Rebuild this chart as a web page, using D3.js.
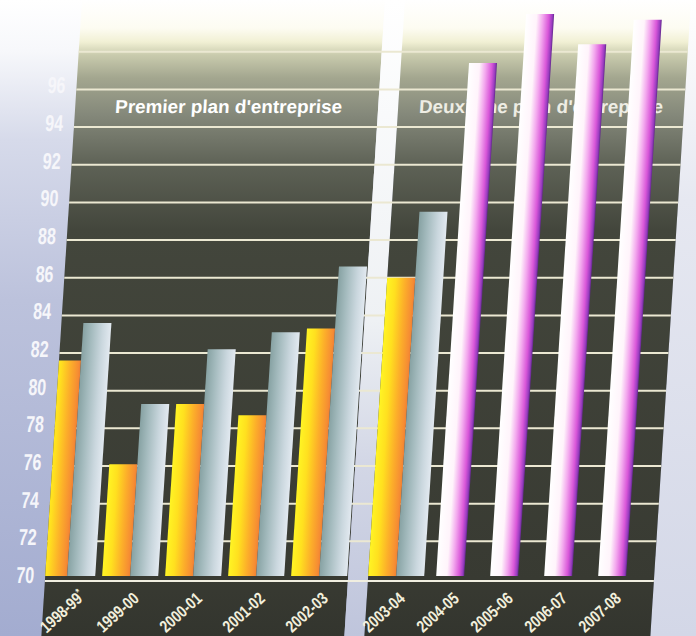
<!DOCTYPE html>
<html>
<head>
<meta charset="utf-8">
<script src="https://cdn.jsdelivr.net/npm/d3@7"></script>
<style>
  html, body { margin: 0; padding: 0; background: #ffffff; }
  svg { display: block; }
</style>
</head>
<body>
<svg id="chart" width="696" height="636"></svg>
<script>
// ---- data -------------------------------------------------------------
const firstPlanYears  = ["1998-99*", "1999-00", "2000-01", "2001-02", "2002-03"];
const secondPlanYears = ["2003-04", "2004-05", "2005-06", "2006-07", "2007-08"];
const categories = firstPlanYears.concat(secondPlanYears);

// yellow/orange series, grey series, pink series (one value per category, null = no bar)
const yellowValues = [81.6, 76.1, 79.3, 78.7, 83.3, 86.0, null, null, null, null];
const greyValues   = [83.6, 79.3, 82.2, 83.1, 86.6, 89.5, null, null, null, null];
const pinkValues   = [null, null, null, null, null, null, 97.4, 100.0, 98.4, 99.7];

const yTickLabels = [70, 72, 74, 76, 78, 80, 82, 84, 86, 88, 90, 92, 94, 96];
const gridValues  = [72, 74, 76, 78, 80, 82, 84, 86, 88, 90, 92, 94, 96, 98];
const planTitles  = ["Premier plan d'entreprise", "Deuxième plan d'entreprise"];

// ---- layout -----------------------------------------------------------
const W = 696, H = 636;
const baseY = 579;                 // y of the value 70
const skewDeg = -3.66;             // the whole board leans slightly
const panelLeft = 45, sepLeft = 348, sepRight = 368, panelRight = 654;
const labelFont = "'Liberation Sans', Arial, sans-serif";

const svg = d3.select("#chart");
const defs = svg.append("defs");

const y = d3.scaleLinear().domain([70, 100]).range([baseY, 14.1]);
const xFirst  = d3.scalePoint().domain(firstPlanYears).range([67, 319]);
const xSecond = d3.scalePoint().domain(secondPlanYears).range([396, 612]);
const xCenter = c => firstPlanYears.includes(c) ? xFirst(c) : xSecond(c);
const barW = xFirst.step() * 0.445;

// ---- gradients --------------------------------------------------------
function vGrad(id, stops) {
  const g = defs.append("linearGradient").attr("id", id)
    .attr("gradientUnits", "userSpaceOnUse")
    .attr("x1", 0).attr("y1", 0).attr("x2", 0).attr("y2", H);
  stops.forEach(([o, c]) => g.append("stop").attr("offset", o / H).attr("stop-color", c));
}
function hGrad(id, stops) {
  const g = defs.append("linearGradient").attr("id", id)
    .attr("x1", 0).attr("y1", 0).attr("x2", 1).attr("y2", 0);
  stops.forEach(([o, c]) => g.append("stop").attr("offset", o).attr("stop-color", c));
}

vGrad("bgLeft", [[0, "#ffffff"], [50, "#f7f8fb"], [140, "#d6daea"], [300, "#bcc2dc"], [636, "#a3acd0"]]);
vGrad("bgRight", [[0, "#ffffff"], [60, "#f8f8fa"], [200, "#e6e8f1"], [636, "#d3d7e7"]]);
vGrad("panelFill", [[0, "#ffffff"], [28, "#fdfcf2"], [42, "#f1f0d4"], [55, "#c9cbad"],
                    [78, "#a3a68f"], [115, "#84887a"], [165, "#5e6256"], [230, "#43463c"],
                    [580, "#383a32"], [636, "#33352e"]]);
vGrad("sepFill", [[0, "#ffffff"], [320, "#eef1f4"], [460, "#d3d7e6"], [636, "#bfc5dc"]]);

hGrad("yellowBar", [[0, "#fff424"], [0.3, "#ffe01f"], [0.65, "#fcae2a"], [0.92, "#f68d33"], [1, "#ef7f33"]]);
hGrad("greyBar",   [[0, "#87a2a3"], [0.3, "#a3babd"], [0.7, "#cad7de"], [1, "#e2e9f0"]]);
hGrad("pinkBar",   [[0, "#ffffff"], [0.38, "#fff4fb"], [0.6, "#f3a8ee"], [0.82, "#d957d9"],
                    [0.94, "#9a3cc0"], [1, "#62298c"]]);

// ---- background -------------------------------------------------------
svg.append("rect").attr("width", W).attr("height", H).attr("fill", "url(#bgLeft)");

const board = svg.append("g")
  .attr("transform", `translate(0,${baseY}) skewX(${skewDeg}) translate(0,${-baseY})`);

board.append("rect").attr("x", panelRight).attr("y", -60).attr("width", 120).attr("height", H + 80)
  .attr("fill", "url(#bgRight)");
board.append("rect").attr("x", panelLeft).attr("y", -60).attr("width", sepLeft - panelLeft).attr("height", H + 80)
  .attr("fill", "url(#panelFill)");
board.append("rect").attr("x", sepLeft).attr("y", -60).attr("width", sepRight - sepLeft).attr("height", H + 80)
  .attr("fill", "url(#sepFill)");
board.append("rect").attr("x", sepRight).attr("y", -60).attr("width", panelRight - sepRight).attr("height", H + 80)
  .attr("fill", "url(#panelFill)");

// horizontal grid
board.append("g").selectAll("line").data(gridValues).join("line")
  .attr("x1", panelLeft).attr("x2", panelRight)
  .attr("y1", d => y(d)).attr("y2", d => y(d))
  .attr("stroke", "#ebe8d2").attr("stroke-width", 2);

// plan titles (second one sits behind the tall bars)
board.append("text").text(planTitles[0])
  .attr("x", 85).attr("y", 113)
  .attr("textLength", 227).attr("lengthAdjust", "spacingAndGlyphs")
  .attr("font-family", labelFont).attr("font-weight", "bold")
  .attr("font-size", 18.5).attr("fill", "#ffffff");
board.append("text").text(planTitles[1])
  .attr("x", 389).attr("y", 113)
  .attr("textLength", 244).attr("lengthAdjust", "spacingAndGlyphs")
  .attr("font-family", labelFont).attr("font-weight", "bold")
  .attr("font-size", 18.5).attr("fill", "#eeede4");

// ---- bars -------------------------------------------------------------
defs.append("clipPath").attr("id", "boardClip")
  .append("rect").attr("x", panelLeft).attr("y", -60).attr("width", panelRight - panelLeft).attr("height", H);

const bars = board.append("g").attr("clip-path", "url(#boardClip)");

const rows = categories.map((c, i) => ({ c, yellow: yellowValues[i], grey: greyValues[i], pink: pinkValues[i] }));

bars.selectAll("rect.yellow").data(rows.filter(d => d.yellow != null)).join("rect")
  .attr("class", "yellow")
  .attr("x", d => xCenter(d.c) - barW).attr("width", barW)
  .attr("y", d => y(d.yellow)).attr("height", d => y(70) - y(d.yellow))
  .attr("fill", "url(#yellowBar)");

bars.selectAll("rect.grey").data(rows.filter(d => d.grey != null)).join("rect")
  .attr("class", "grey")
  .attr("x", d => xCenter(d.c)).attr("width", barW)
  .attr("y", d => y(d.grey)).attr("height", d => y(70) - y(d.grey))
  .attr("fill", "url(#greyBar)");

bars.selectAll("rect.pink").data(rows.filter(d => d.pink != null)).join("rect")
  .attr("class", "pink")
  .attr("x", d => xCenter(d.c) - barW / 2).attr("width", barW)
  .attr("y", d => y(d.pink)).attr("height", d => y(70) - y(d.pink))
  .attr("fill", "url(#pinkBar)");

// base line
board.append("line")
  .attr("x1", panelLeft).attr("x2", panelRight)
  .attr("y1", y(70) + 2).attr("y2", y(70) + 2)
  .attr("stroke", "#f0eee0").attr("stroke-width", 2);

// ---- value axis (condensed bold figures) ------------------------------
const yAxis = board.append("g")
  .attr("transform", "translate(34,-4)")
  .call(d3.axisLeft(y).tickValues(yTickLabels).tickSize(0).tickPadding(0));
yAxis.select(".domain").remove();
yAxis.selectAll("text")
  .attr("x", 0)
  .attr("transform", "scale(0.7,1)")
  .attr("font-family", labelFont)
  .attr("font-weight", "bold").attr("font-size", 23)
  .attr("fill", "#f6f6fa");

// ---- year labels ------------------------------------------------------
function yearAxis(scale) {
  const g = svg.append("g").attr("transform", "translate(-1.5,600)")
    .call(d3.axisBottom(scale).tickSize(0).tickPadding(0));
  g.select(".domain").remove();
  g.selectAll("text")
    .attr("x", 0).attr("y", 0).attr("dy", 0)
    .attr("transform", d => `translate(${d.endsWith("*") ? 20 : 11},${d.endsWith("*") ? -2 : 0}) rotate(-42) scale(0.8,1)`)
    .attr("text-anchor", "end")
    .attr("font-family", labelFont)
    .attr("font-weight", "bold").attr("font-size", 17)
    .attr("fill", "#f2efdc")
    .each(function (d) {
      // footnote mark drawn as a small raised asterisk
      if (!d.endsWith("*")) return;
      const t = d3.select(this).text(null);
      t.append("tspan").text(d.slice(0, -1));
      t.append("tspan").text("*").attr("font-size", 11).attr("dy", -6);
    });
  return g;
}
yearAxis(xFirst);
yearAxis(xSecond);
</script>
</body>
</html>
